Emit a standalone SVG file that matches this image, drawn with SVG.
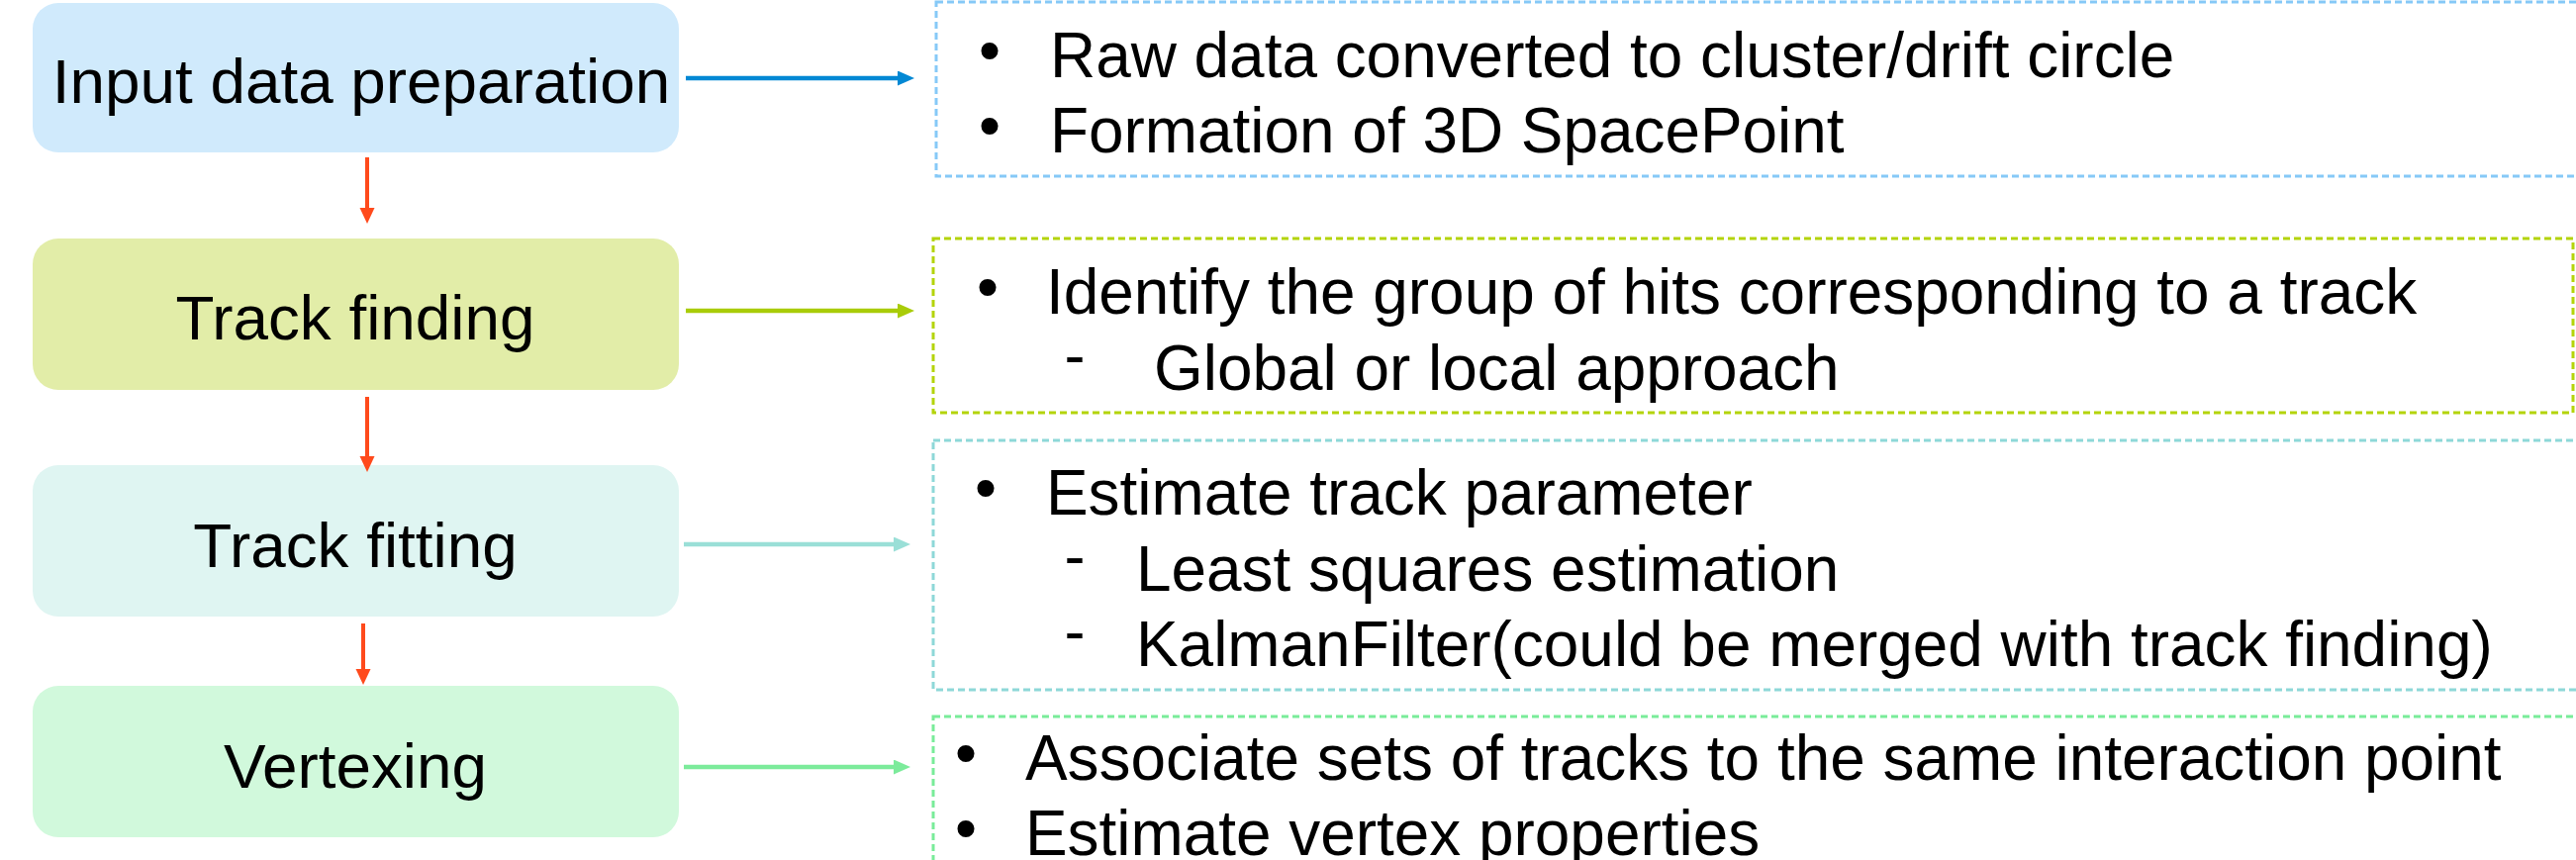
<svg xmlns="http://www.w3.org/2000/svg" width="2603" height="869" viewBox="0 0 2603 869">
  <style>
    .step { font-family: "Liberation Sans", Arial, sans-serif; font-size: 63.8px; fill: #000; text-anchor: middle; }
    .item { font-family: "Liberation Sans", Arial, sans-serif; font-size: 63.9px; fill: #000; }
    .mark { font-family: "Liberation Sans", Arial, sans-serif; font-size: 63px; fill: #000; text-anchor: middle; }
    .frame { fill: none; stroke-width: 3; stroke-dasharray: 7 4; }
    .link { fill: none; stroke-width: 4.5; }
    .flow { fill: none; stroke: #FF4A1C; stroke-width: 4; }
  </style>
  <defs>
    <marker id="head-flow" markerUnits="userSpaceOnUse" markerWidth="16" markerHeight="16" refX="5" refY="7.5" orient="auto">
      <path d="M0,0 L16,7.5 L0,15 z" fill="#FF4A1C"/>
    </marker>
    <marker id="head-blue" markerUnits="userSpaceOnUse" markerWidth="17" markerHeight="16" refX="5" refY="7.5" orient="auto">
      <path d="M0,0 L17,7.5 L0,15 z" fill="#0288D4"/>
    </marker>
    <marker id="head-lime" markerUnits="userSpaceOnUse" markerWidth="17" markerHeight="16" refX="5" refY="7.5" orient="auto">
      <path d="M0,0 L17,7.5 L0,15 z" fill="#A9CC08"/>
    </marker>
    <marker id="head-teal" markerUnits="userSpaceOnUse" markerWidth="17" markerHeight="16" refX="5" refY="7.5" orient="auto">
      <path d="M0,0 L17,7.5 L0,15 z" fill="#9ADFD7"/>
    </marker>
    <marker id="head-mint" markerUnits="userSpaceOnUse" markerWidth="17" markerHeight="16" refX="5" refY="7.5" orient="auto">
      <path d="M0,0 L17,7.5 L0,15 z" fill="#7CEB9B"/>
    </marker>
  </defs>

  <rect width="2603" height="869" fill="#FFFFFF"/>

  <!-- pipeline stages -->
  <g id="stage-input">
    <rect x="33" y="3" width="653" height="151" rx="26" fill="#D0EAFC"/>
    <text class="step" x="365" y="104">Input data preparation</text>
  </g>
  <g id="stage-finding">
    <rect x="33" y="241" width="653" height="153" rx="26" fill="#E2EDA8"/>
    <text class="step" x="359" y="343">Track finding</text>
  </g>
  <g id="stage-fitting">
    <rect x="33" y="470" width="653" height="153" rx="26" fill="#DFF5F2"/>
    <text class="step" x="359" y="573">Track fitting</text>
  </g>
  <g id="stage-vertexing">
    <rect x="33" y="693" width="653" height="153" rx="26" fill="#D1F9DC"/>
    <text class="step" x="359" y="796">Vertexing</text>
  </g>

  <!-- description panels -->
  <g id="notes-input">
    <rect class="frame" x="946" y="2" width="1680" height="176" stroke="#86C9F7"/>
    <text class="mark" x="1000" y="72">•</text>
    <text class="item" x="1061" y="78" fill="#1E1E1E">Raw data converted to cluster/drift circle</text>
    <text class="mark" x="1000" y="148">•</text>
    <text class="item" x="1061" y="154" fill="#1E1E1E">Formation of 3D SpacePoint</text>
  </g>
  <g id="notes-finding">
    <rect class="frame" x="943" y="241" width="1657" height="176" stroke="#B4D40A"/>
    <text class="mark" x="998" y="311">•</text>
    <text class="item" x="1057" y="317">Identify the group of hits corresponding to a track</text>
    <text class="mark" x="1086" y="380">-</text>
    <text class="item" x="1166" y="394">Global or local approach</text>
  </g>
  <g id="notes-fitting">
    <rect class="frame" x="943" y="445" width="1683" height="252" stroke="#8ED8D8"/>
    <text class="mark" x="996" y="514">•</text>
    <text class="item" x="1057" y="520">Estimate track parameter</text>
    <text class="mark" x="1086" y="583">-</text>
    <text class="item" x="1148" y="597">Least squares estimation</text>
    <text class="mark" x="1086" y="659">-</text>
    <text class="item" x="1148" y="673">KalmanFilter(could be merged with track finding)</text>
  </g>
  <g id="notes-vertexing">
    <rect class="frame" x="943" y="724" width="1683" height="200" stroke="#79EC99"/>
    <text class="mark" x="976" y="782">•</text>
    <text class="item" x="1036" y="788">Associate sets of tracks to the same interaction point</text>
    <text class="mark" x="976" y="858">•</text>
    <text class="item" x="1036" y="864">Estimate vertex properties</text>
  </g>

  <!-- connectors -->
  <g id="connectors">
    <line class="flow" x1="371" y1="159" x2="371" y2="215" marker-end="url(#head-flow)"/>
    <line class="flow" x1="371" y1="401" x2="371" y2="466" marker-end="url(#head-flow)"/>
    <line class="flow" x1="367" y1="630" x2="367" y2="681" marker-end="url(#head-flow)"/>

    <line class="link" x1="693" y1="79" x2="912" y2="79" stroke="#0288D4" marker-end="url(#head-blue)"/>
    <line class="link" x1="693" y1="314" x2="912" y2="314" stroke="#A9CC08" marker-end="url(#head-lime)"/>
    <line class="link" x1="691" y1="550" x2="908" y2="550" stroke="#9ADFD7" marker-end="url(#head-teal)"/>
    <line class="link" x1="691" y1="775" x2="908" y2="775" stroke="#7CEB9B" marker-end="url(#head-mint)"/>
  </g>
</svg>
